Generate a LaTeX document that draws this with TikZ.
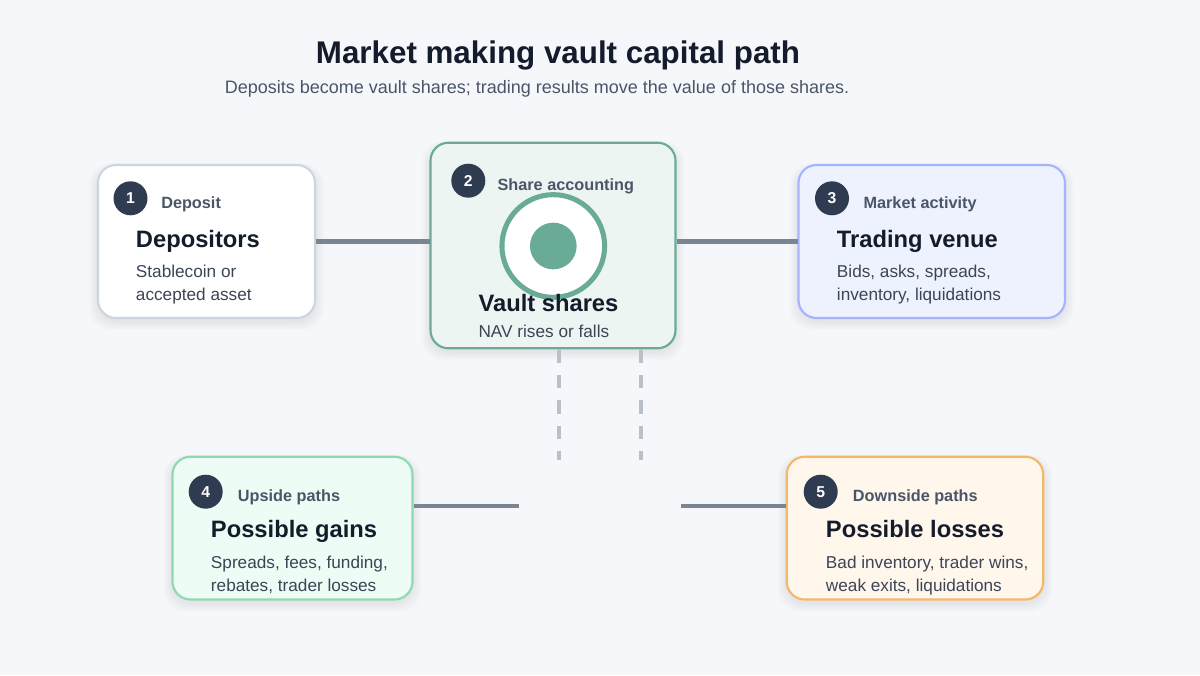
\documentclass[tikz,border=0pt]{standalone}
\usepackage{fontspec}
\setmainfont{Liberation Sans}
\definecolor{bg}{HTML}{F5F7FB}
\definecolor{ink}{HTML}{141C2C}
\definecolor{sub}{HTML}{4A5568}
\definecolor{body}{HTML}{3B4556}
\definecolor{badge}{HTML}{2F3B50}
\definecolor{conn}{HTML}{7B8491}
\definecolor{dash}{HTML}{B9C0C7}
\definecolor{teal}{HTML}{6AAB98}
\definecolor{tealbg}{HTML}{EDF5F2}
\definecolor{lav}{HTML}{A5B4FC}
\definecolor{lavbg}{HTML}{EEF2FE}
\definecolor{mint}{HTML}{8ED9AE}
\definecolor{mintbg}{HTML}{EDFCF4}
\definecolor{orng}{HTML}{F4B868}
\definecolor{orngbg}{HTML}{FFF6EC}
\definecolor{greyb}{HTML}{CDD5DF}
\newcommand\mysoftshadow[4]{%
  \foreach \k in {1,...,6}{%
    \fill[black, opacity=0.012, rounded corners=16pt]
      ({#1-\k*1.5},{#2-\k*0.8+3}) rectangle ({#3+\k*1.5},{#4+\k*1.5+3});
  }}
\tikzset{
  card/.style={draw=#1, line width=1.6pt, rounded corners=13.5pt},
  badgec/.style={circle, fill=badge, minimum size=25.5pt, inner sep=0pt, text=white, font=\fontsize{11.8pt}{13pt}\selectfont\bfseries},
  lbl/.style={anchor=base west, inner sep=0pt, text=sub, font=\fontsize{12.2pt}{14pt}\selectfont\bfseries},
  head/.style={anchor=base west, inner sep=0pt, text=ink, font=\fontsize{17.8pt}{20pt}\selectfont\bfseries},
  txt/.style={anchor=base west, inner sep=0pt, text=body, font=\fontsize{12.9pt}{15pt}\selectfont},
  connline/.style={draw=conn, line width=3.6pt},
  dashline/.style={draw=dash, line width=2.4pt, dash pattern=on 10pt off 9pt}
}
\begin{document}
\begin{tikzpicture}[x=0.75pt,y=-0.75pt]
\fill[bg] (0,0) rectangle (1200,675);
\useasboundingbox (0,0) rectangle (1200,675);

% title
\node[anchor=base, inner sep=0pt, text=ink, font=\fontsize{23.5pt}{26pt}\selectfont\bfseries] (title) at (558,63.3) {Market making vault capital path};
\node[anchor=base, inner sep=0pt, text=sub, font=\fontsize{13.5pt}{16pt}\selectfont] (subtitle) at (537,93.5) {Deposits become vault shares; trading results move the value of those shares.};

\coordinate (g1) at (519,506);
\coordinate (l1) at (681,506);
\coordinate (d2) at (559,460);
\coordinate (d4) at (641,460);

% shadows
\mysoftshadow{98}{165}{315}{318}
\mysoftshadow{430.5}{142.7}{675.5}{348.3}
\mysoftshadow{798.5}{165}{1065}{318}
\mysoftshadow{172.5}{456.7}{412.5}{599.5}
\mysoftshadow{786.7}{456.7}{1043.3}{599.5}

% card 1
\path[card=greyb, fill=white] (98,165) rectangle (315,318);
\node[badgec] (b1) at (130.5,198.3) {1};
\node[lbl] (l1t) at (161,208.3) {Deposit};
\node[head] (h1) at (135.7,247.3) {Depositors};
\node[txt] (t1a) at (135.7,277.3) {Stablecoin or};
\node[txt] (t1b) at (135.7,300.5) {accepted asset};

% card 2
\path[card=teal, fill=tealbg] (430.5,142.7) rectangle (675.5,348.3);
\node[badgec] (b2) at (468.3,180.7) {2};
\node[lbl] (l2t) at (497.3,190) {Share accounting};
\node[circle, draw=teal, line width=3.8pt, fill=white, minimum size=77pt, inner sep=0pt] (ring) at (553.3,246) {};
\node[circle, fill=teal, minimum size=35pt, inner sep=0pt] (dot) at (553.3,246) {};
\node[head] (h2) at (478.3,311.7) {Vault shares};
\node[txt] (t2a) at (478.3,337.3) {NAV rises or falls};

% card 3
\path[card=lav, fill=lavbg] (798.5,165) rectangle (1065,318);
\node[badgec] (b3) at (832,198.3) {3};
\node[lbl] (l3t) at (863.3,208.3) {Market activity};
\node[head] (h3) at (836.7,247.3) {Trading venue};
\node[txt] (t3a) at (836.7,277.3) {Bids, asks, spreads,};
\node[txt] (t3b) at (836.7,300.5) {inventory, liquidations};

% card 4
\path[card=mint, fill=mintbg] (172.5,456.7) rectangle (412.5,599.5);
\node[badgec] (b4) at (205.7,491.7) {4};
\node[lbl] (l4t) at (237.7,501.3) {Upside paths};
\node[head] (h4) at (210.7,537.3) {Possible gains};
\node[txt] (t4a) at (210.7,568) {Spreads, fees, funding,};
\node[txt] (t4b) at (210.7,591.7) {rebates, trader losses};

% card 5
\path[card=orng, fill=orngbg] (786.7,456.7) rectangle (1043.3,599.5);
\node[badgec] (b5) at (820.7,491.7) {5};
\node[lbl] (l5t) at (852.7,501.3) {Downside paths};
\node[head] (h5) at (825.7,537.3) {Possible losses};
\node[txt] (t5a) at (825.7,568) {Bad inventory, trader wins,};
\node[txt] (t5b) at (825.7,591.7) {weak exits, liquidations};

% connector lines
\draw[connline] (316,241.3) -- (430,241.3);
\draw[connline] (676.5,241.3) -- (797.5,241.3);
\draw[connline] (414,506) -- (g1);
\draw[connline] (l1) -- (785.5,506);
\draw[dashline] (559,349.5) -- (d2);
\draw[dashline] (641,349.5) -- (d4);
\end{tikzpicture}
\end{document}
